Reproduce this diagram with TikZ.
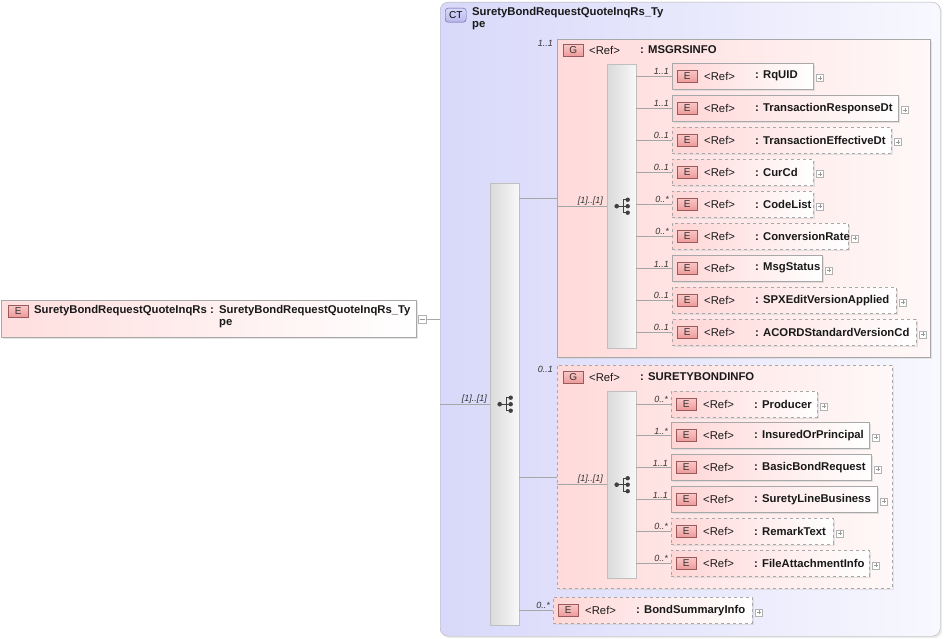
\documentclass[tikz,border=0pt]{standalone}
\usepackage{fontspec}
\setmainfont{Liberation Sans}
\usetikzlibrary{shadows}
\definecolor{ctL}{HTML}{D8D8FA}
\definecolor{ctR}{HTML}{F8F8FF}
\definecolor{grpL}{HTML}{FFDADA}
\definecolor{grpR}{HTML}{FFF8F8}
\definecolor{elemL}{HTML}{FFD6D6}
\definecolor{badgeT}{HTML}{FAC8C8}
\definecolor{badgeB}{HTML}{EE9A9A}
\definecolor{badgeBorder}{HTML}{9A5A5A}
\definecolor{ctBadgeT}{HTML}{D8D8F8}
\definecolor{ctBadgeB}{HTML}{B8B8EC}
\definecolor{boxBorder}{HTML}{A8A8A8}
\definecolor{barL}{HTML}{DADADA}
\definecolor{barR}{HTML}{F8F8F8}
\newcommand\elembox[8]{%
  \node[elem,#5,minimum width=#4pt,anchor=north west] (#1) at (#2,#3) {};
  \node[badge,anchor=west] (#1b) at ([xshift=5pt]#1.west) {E};
  \node[reft,anchor=west] (#1r) at ([xshift=32pt]#1.west) {<Ref>};
  \node[namet,anchor=west] (#1n) at ([xshift=83pt]#1.west) {: #6};
  \node[plusbox,anchor=west] (#1p) at ([xshift=3pt,yshift=-2pt]#1.east) {};
  \draw[conn] (#8.east |- #1.west) -- (#1.west);
  \node[mult,anchor=south east] (#1m) at ([xshift=-3pt,yshift=1pt]#1.west) {#7};
}
\newcommand\seqicon[1]{%
  \begin{scope}[shift={(#1.center)}]
    \draw[black!75,line width=0.9pt] (-5,0) -- (1.5,0) (1.5,-6.5) -- (1.5,6.5)
      (1.5,-6.5) -- (6,-6.5) (1.5,0) -- (6,0) (1.5,6.5) -- (6,6.5);
    \fill[black!75] (-5,0) circle (2.3pt) (6,-6.5) circle (2.2pt)
      (6,0) circle (2.2pt) (6,6.5) circle (2.2pt);
  \end{scope}}
\begin{document}
\begin{tikzpicture}[x=1pt,y=-1pt,
  elem/.style={draw=boxBorder,left color=elemL,right color=white,
    minimum height=26pt,inner sep=0pt,
    drop shadow={shadow xshift=1.5pt,shadow yshift=-1.5pt,fill=black!20}},
  badge/.style={draw=badgeBorder,top color=badgeT,bottom color=badgeB,
    minimum width=20pt,minimum height=12pt,inner sep=0pt,
    font=\fontsize{10}{10}\selectfont,text=black!80},
  reft/.style={inner sep=0pt,font=\fontsize{11.3}{13}\selectfont,text=black!90},
  namet/.style={inner sep=0pt,font=\fontsize{11.3}{13}\selectfont\bfseries,text=black!90},
  mult/.style={inner sep=0pt,font=\fontsize{9}{10}\selectfont\itshape,text=black!80},
  plusbox/.style={draw=gray!60,fill=white,minimum size=7pt,inner sep=0pt,
    path picture={\draw[gray!80,line width=0.4pt]
      ([xshift=-2pt]path picture bounding box.center) -- ([xshift=2pt]path picture bounding box.center)
      ([yshift=-2pt]path picture bounding box.center) -- ([yshift=2pt]path picture bounding box.center);}},
  minusbox/.style={draw=gray!60,fill=white,minimum size=8pt,inner sep=0pt,
    path picture={\draw[gray!80,line width=0.4pt]
      ([xshift=-2.5pt]path picture bounding box.center) -- ([xshift=2.5pt]path picture bounding box.center);}},
  conn/.style={draw=gray!70,line width=0.6pt},
  bar/.style={draw=gray!50,left color=barL,right color=barR,inner sep=0pt,
    drop shadow={shadow xshift=1pt,shadow yshift=-1pt,fill=black!12}},
  grp/.style={draw=boxBorder,left color=grpL,right color=grpR,inner sep=0pt,line width=0.8pt,
    drop shadow={shadow xshift=2pt,shadow yshift=-2pt,fill=black!18}},
  ctbox/.style={draw=gray!60,left color=ctL,right color=ctR,inner sep=0pt,rounded corners=8pt,
    drop shadow={shadow xshift=2pt,shadow yshift=-2pt,fill=black!15}},
  rootbox/.style={draw=boxBorder,left color=elemL!80,right color=white,inner sep=0pt,
    drop shadow={shadow xshift=1.5pt,shadow yshift=-1.5pt,fill=black!20}}
]
\useasboundingbox (0,0) rectangle (944,639);

% root element
\node[rootbox,minimum width=415pt,minimum height=37pt,anchor=north west] (root) at (1,300) {};
\node[badge,anchor=north west] (rootb) at (8,305) {E};
\node[namet,anchor=west] (rootn) at (34,311) {SuretyBondRequestQuoteInqRs};
\node[namet,anchor=west] (rootc) at (210,311) {:};
\node[namet,anchor=north west,align=left] (roott) at (219,305) {SuretyBondRequestQuoteInqRs\_Ty\\[-1pt]\hspace*{0pt}pe};
\node[minusbox] (rootm) at (422,319) {};

% complex type
\node[ctbox,minimum width=500pt,minimum height=634pt,anchor=north west] (ct) at (440,2) {};
\node[draw=gray!70!blue,top color=ctBadgeT,bottom color=ctBadgeB,rounded corners=3pt,
  minimum width=21pt,minimum height=14pt,inner sep=0pt,font=\fontsize{10}{10}\selectfont,
  anchor=north west] (ctb) at (445,8) {CT};
\node[namet,anchor=north west,align=left] (ctt) at (472,7) {SuretyBondRequestQuoteInqRs\_Ty\\[-1pt]pe};
\draw[conn] (rootm.east) -- (ct.west |- rootm.east);

% outer sequence
\node[bar,minimum width=29pt,minimum height=442pt,anchor=north west] (obar) at (490,183) {};
\seqicon{obar}
\draw[conn] (ct.west |- obar.west) -- (obar.west);
\node[mult,anchor=south east] (obarm) at ([xshift=-3pt,yshift=1pt]obar.west) {[1]..[1]};

% group MSGRSINFO
\node[grp,minimum width=373pt,minimum height=318pt,anchor=north west] (msg) at (557,39) {};
\node[badge,anchor=north west] (msgb) at ([xshift=6pt,yshift=-5pt]msg.north west) {G};
\node[reft,anchor=west] (msgr) at ([xshift=32pt,yshift=-11pt]msg.north west) {<Ref>};
\node[namet,anchor=west] (msgn) at ([xshift=83pt,yshift=-11pt]msg.north west) {: MSGRSINFO};
\node[mult,anchor=north east] (msgm) at ([xshift=-4pt,yshift=-1pt]msg.north west) {1..1};
\draw[conn] (obar.east |- msg.west) -- (msg.west);
\node[bar,minimum width=29pt,minimum height=284pt,anchor=north west] (ibarA) at (607,64) {};
\seqicon{ibarA}
\draw[conn] (msg.west |- ibarA.west) -- (ibarA.west);
\node[mult,anchor=south east] (ibarAm) at ([xshift=-4pt,yshift=1pt]ibarA.west) {[1]..[1]};

\elembox{rq}{672}{63}{141}{solid}{RqUID}{1..1}{ibarA}
\elembox{trd}{672}{95}{226}{solid}{TransactionResponseDt}{1..1}{ibarA}
\elembox{ted}{672}{127}{219}{dashed}{TransactionEffectiveDt}{0..1}{ibarA}
\elembox{cur}{672}{159}{141}{dashed}{CurCd}{0..1}{ibarA}
\elembox{cl}{672}{191}{141}{dashed}{CodeList}{0..*}{ibarA}
\elembox{cr}{672}{223}{176}{dashed}{ConversionRate}{0..*}{ibarA}
\elembox{ms}{672}{255}{150}{solid}{MsgStatus}{1..1}{ibarA}
\elembox{spx}{672}{287}{224}{dashed}{SPXEditVersionApplied}{0..1}{ibarA}
\elembox{acord}{672}{319}{244}{dashed}{ACORDStandardVersionCd}{0..1}{ibarA}

% group SURETYBONDINFO
\node[grp,dashed,minimum width=335pt,minimum height=223pt,anchor=north west] (sbi) at (557,365) {};
\node[badge,anchor=north west] (sbib) at ([xshift=6pt,yshift=-6pt]sbi.north west) {G};
\node[reft,anchor=west] (sbir) at ([xshift=32pt,yshift=-12pt]sbi.north west) {<Ref>};
\node[namet,anchor=west] (sbin) at ([xshift=83pt,yshift=-12pt]sbi.north west) {: SURETYBONDINFO};
\node[mult,anchor=north east] (sbim) at ([xshift=-4pt,yshift=-1pt]sbi.north west) {0..1};
\draw[conn] (obar.east |- sbi.west) -- (sbi.west);
\node[bar,minimum width=29pt,minimum height=187pt,anchor=north west] (ibarB) at (607,391) {};
\seqicon{ibarB}
\draw[conn] (sbi.west |- ibarB.west) -- (ibarB.west);
\node[mult,anchor=south east] (ibarBm) at ([xshift=-4pt,yshift=1pt]ibarB.west) {[1]..[1]};

\elembox{prod}{671}{391}{146}{dashed}{Producer}{0..*}{ibarB}
\elembox{iop}{671}{422}{198}{solid}{InsuredOrPrincipal}{1..*}{ibarB}
\elembox{bbr}{671}{454}{200}{solid}{BasicBondRequest}{1..1}{ibarB}
\elembox{slb}{671}{486}{206}{solid}{SuretyLineBusiness}{1..1}{ibarB}
\elembox{rt}{671}{518}{162}{dashed}{RemarkText}{0..*}{ibarB}
\elembox{fai}{671}{550}{198}{dashed}{FileAttachmentInfo}{0..*}{ibarB}

% BondSummaryInfo
\elembox{bsi}{553}{597}{199}{dashed}{BondSummaryInfo}{0..*}{obar}
\end{tikzpicture}
\end{document}
